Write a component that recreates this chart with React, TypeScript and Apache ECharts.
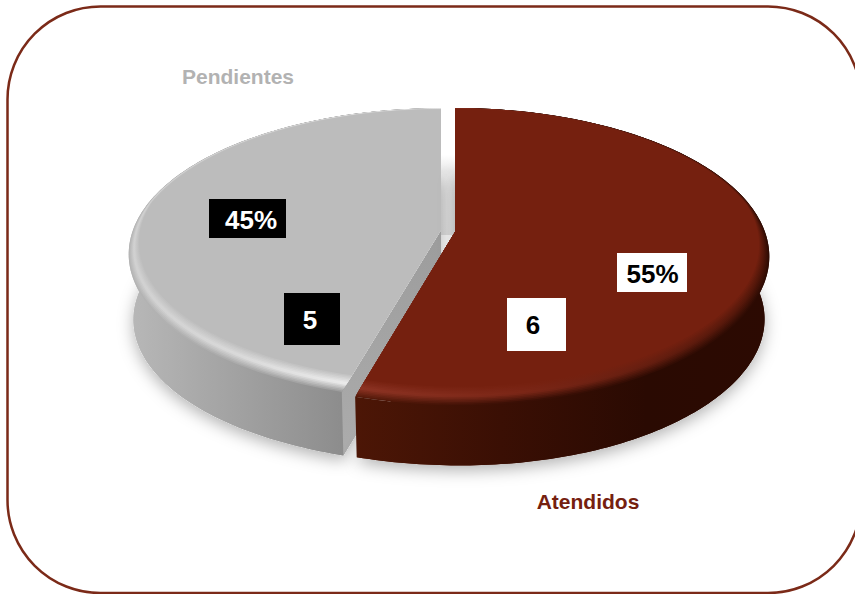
import React, { useEffect, useRef } from "react";
import * as echarts from "echarts";

const categories = ["Pendientes", "Atendidos"];
const seriesValues = [5, 6];
const total = seriesValues.reduce((a, b) => a + b, 0);

const FONT = '"Liberation Sans", Arial, sans-serif';
const W = 855;
const H = 594;

type Stop = [number, string];
type Box = { x: number; y: number; w: number; h: number; bg: string; fg: string; tx: number; ty: number };
type Look = {
  apex: [number, number];
  A: number;
  B: number;
  depth: number;
  skew: number;
  base: string;
  outer: Stop[];
  high: Stop[];
  wall: Stop[];
  span: [number, number];
  name: { x: number; y: number; color: string };
  valueBox: Box;
  pctBox: Box;
};

const looks: Look[] = [
  {
    apex: [441, 230],
    A: 308,
    B: 142,
    depth: 66,
    skew: 5,
    base: "#bcbcbc",
    span: [128, 345],
    outer: [[0, "#b4b4b4"], [0.5, "#ababab"], [1, "#9e9e9e"]],
    high: [[0, "#d2d2d2"], [0.5, "#dcdcdc"], [1, "#efefef"]],
    wall: [[0, "#b8b8b8"], [0.35, "#a8a8a8"], [0.8, "#959595"], [1, "#8c8c8c"]],
    name: { x: 238, y: 76, color: "#b2b2b2" },
    valueBox: { x: 284, y: 293, w: 56, h: 52, bg: "#000000", fg: "#ffffff", tx: 310, ty: 320 },
    pctBox: { x: 209, y: 199, w: 77, h: 39, bg: "#000000", fg: "#ffffff", tx: 251, ty: 220 },
  },
  {
    apex: [455, 232],
    A: 310,
    B: 144.5,
    depth: 63,
    skew: 5,
    base: "#75200f",
    span: [357, 770],
    outer: [[0, "#571a0a"], [0.4, "#3a0f05"], [1, "#2e0b03"]],
    high: [[0, "#8e3424"], [0.4, "#7c2717"], [1, "#4e1508"]],
    wall: [[0, "#4c1606"], [0.35, "#3a0f04"], [0.7, "#2a0a02"], [1, "#2c0a02"]],
    name: { x: 588, y: 501, color: "#75200f" },
    valueBox: { x: 507, y: 298, w: 59, h: 53, bg: "#ffffff", fg: "#000000", tx: 533, ty: 325 },
    pctBox: { x: 617, y: 253, w: 70, h: 39, bg: "#ffffff", fg: "#000000", tx: 652.5, ty: 274 },
  },
];

const K = 0.165;
const BOTTOM_SCALE = 0.985;
const LAYERS = 12;

function hex(c: string) {
  return [1, 3, 5].map((i) => parseInt(c.slice(i, i + 2), 16));
}
function mix(a: string, b: string, t: number) {
  const x = hex(a);
  const y = hex(b);
  return `rgb(${x.map((v, i) => Math.round(v + (y[i] - v) * t)).join(",")})`;
}

function project(l: Look, deg: number, r: number, scale = 1, dy = 0): [number, number] {
  const a = (deg * Math.PI) / 180;
  const u0 = Math.sin(a);
  const v0 = -Math.cos(a);
  const u = u0 * r;
  const v = v0 * r;
  const w = 1 - K * v;
  const lens = l.skew * Math.pow(Math.max(0, v0), 6) * r;
  return [l.apex[0] + (scale * l.A * u) / w + lens, l.apex[1] + dy + (scale * l.B * v) / w];
}

function rimInset(deg: number) {
  const v = -Math.cos((deg * Math.PI) / 180);
  return 0.01 + 0.08 * Math.max(0, (v + 0.2) / 1.2);
}

function arc(l: Look, s: number, e: number, rf: (d: number) => number, scale = 1, dy = 0) {
  const pts: [number, number][] = [];
  const n = Math.ceil(e - s);
  for (let i = 0; i <= n; i++) {
    const d = s + ((e - s) * i) / n;
    pts.push(project(l, d, rf(d), scale, dy));
  }
  return pts;
}

function hGrad(span: [number, number], stops: { offset: number; color: string }[]) {
  return { type: "linear", x: span[0], y: 0, x2: span[1], y2: 0, global: true, colorStops: stops };
}

function renderItem(params: any, api: any) {
  const idx = params.dataIndex;
  const l = looks[idx];
  const val = api.value(0);
  let start = (-360 * seriesValues[0]) / total;
  for (let i = 0; i < idx; i++) start += (360 * seriesValues[i]) / total;
  const end = start + (360 * val) / total;
  const children: any[] = [];

  const wallFill = hGrad(
    l.span,
    l.wall.map(([offset, color]) => ({ offset, color }))
  );
  const bottomArc = arc(l, start, end, () => 1, BOTTOM_SCALE, l.depth);
  const bottomSector = [[l.apex[0], l.apex[1] + l.depth], ...bottomArc];

  if (idx === 0) {
    children.push({
      type: "rect",
      shape: { x: 441, y: 155, width: 14, height: 80 },
      style: {
        fill: {
          type: "linear",
          x: 0,
          y: 0,
          x2: 0,
          y2: 1,
          colorStops: [
            { offset: 0, color: "#ffffff" },
            { offset: 0.2, color: "#e8e8e8" },
            { offset: 1, color: "#e4e4e4" },
          ],
        },
      },
    });
  }

  // soft ground shadow
  children.push({
    type: "polygon",
    shape: { points: bottomSector },
    style: { fill: "#ffffff", shadowBlur: 16, shadowColor: "rgba(0,0,0,0.3)", shadowOffsetY: 5 },
  });
  // outer wall
  const rimPts = arc(l, start, end, () => 1);
  const lowPts = [...bottomArc].reverse();
  children.push({ type: "polygon", shape: { points: bottomSector }, style: { fill: wallFill } });
  children.push({ type: "polygon", shape: { points: [...rimPts, ...lowPts] }, style: { fill: wallFill } });

  // cut face, seen only on the left slice
  if (idx === 0) {
    const cornerTop = project(l, start, 1);
    const cornerLow = project(l, start, 1, BOTTOM_SCALE, l.depth);
    children.push({
      type: "polygon",
      shape: { points: [l.apex, cornerTop, cornerLow, [l.apex[0], l.apex[1] + l.depth]] },
      style: {
        fill: {
          type: "linear",
          x: 0,
          y: 0,
          x2: 0,
          y2: 1,
          colorStops: [
            { offset: 0, color: "#9c9c9c" },
            { offset: 1, color: "#acacac" },
          ],
        },
      },
    });
  }

  // top face with soft rim
  for (let i = LAYERS; i >= 0; i--) {
    const t = i / LAYERS;
    const stops = l.outer.map(([offset, outerColor], j) => {
      const hi = l.high[j][1];
      const color = t > 0.55 ? mix(hi, outerColor, (t - 0.55) / 0.45) : mix(l.base, hi, t / 0.55);
      return { offset, color };
    });
    const rf = (d: number) => 1 - rimInset(d) * (1 - t);
    children.push({
      type: "polygon",
      shape: { points: [l.apex, ...arc(l, start, end, rf)] },
      style: { fill: hGrad(l.span, stops) },
    });
  }

  // labels
  const box = (b: Box, text: string) => {
    children.push({ type: "rect", shape: { x: b.x, y: b.y, width: b.w, height: b.h }, style: { fill: b.bg } });
    children.push({
      type: "text",
      style: {
        text,
        x: b.tx,
        y: b.ty,
        fill: b.fg,
        font: `bold 26px ${FONT}`,
        align: "center",
        verticalAlign: "middle",
      },
    });
  };
  box(l.pctBox, `${Math.round((val / total) * 100)}%`);
  box(l.valueBox, String(val));
  children.push({
    type: "text",
    style: {
      text: categories[idx],
      x: l.name.x,
      y: l.name.y,
      fill: l.name.color,
      font: `bold 21px ${FONT}`,
      align: "center",
      verticalAlign: "middle",
    },
  });

  return { type: "group", children };
}

export default function App() {
  const ref = useRef<HTMLDivElement>(null);
  useEffect(() => {
    document.body.style.margin = "0";
    const chart = echarts.init(ref.current!, undefined, { renderer: "svg" });
    chart.setOption({
      animation: false,
      backgroundColor: "#ffffff",
      graphic: [
        {
          type: "rect",
          z: 100,
          shape: { x: 7.5, y: 6.5, width: 853.5, height: 586.5, r: 93 },
          style: { fill: "none", stroke: "#7b2a18", lineWidth: 2.5 },
        },
      ],
      series: [
        {
          type: "custom",
          coordinateSystem: "none",
          clip: false,
          renderItem,
          data: seriesValues,
        },
      ],
    });
    return () => chart.dispose();
  }, []);
  return <div ref={ref} style={{ position: "absolute", left: 0, top: 0, width: W, height: H }} />;
}
